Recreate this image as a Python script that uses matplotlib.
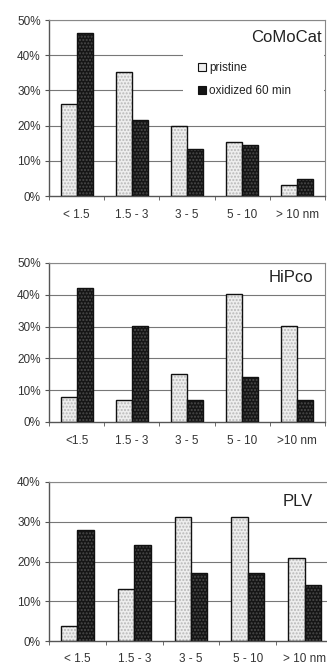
import matplotlib
matplotlib.use("Agg")
import matplotlib.pyplot as plt
import numpy as np
from matplotlib.patches import Patch, Rectangle

plt.rcParams['font.family'] = ['Liberation Sans', 'DejaVu Sans']

titles = ["CoMoCat", "HiPco", "PLV"]
labels_1 = ["< 1.5", "1.5 - 3", "3 - 5", "5 - 10", "> 10 nm"]
labels_2 = ["<1.5", "1.5 - 3", "3 - 5", "5 - 10", ">10 nm"]
labels_3 = ["< 1.5", "1.5 - 3", "3 - 5", "5 - 10", "> 10 nm"]
pristine_1 = [26, 35.3, 20, 15.2, 3]
oxidized_1 = [46.2, 21.5, 13.4, 14.4, 4.8]
pristine_2 = [8, 6.8, 15.2, 40.2, 30.3]
oxidized_2 = [42.2, 30.3, 6.9, 14.2, 7]
pristine_3 = [3.7, 13, 31.2, 31.2, 21]
oxidized_3 = [28, 24.2, 17, 17, 14]
ymax = [50, 50, 40]
series_names = ["pristine", "oxidized 60 min"]

W, H = 327, 663
fig = plt.figure(figsize=(W / 100, H / 100), dpi=100)

boxes = [(49, 325, 20, 196), (49, 325, 263, 422), (49, 333, 482, 641)]
title_pos = [(322, 38), (313, 277), (313, 502)]

p_face, p_hatch = '#eeeeee', '#b8b8b8'
o_face, o_hatch = '#151515', '#4a4a4a'

data = [(labels_1, pristine_1, oxidized_1), (labels_2, pristine_2, oxidized_2),
        (labels_3, pristine_3, oxidized_3)]

for i, ((l, r, t, b), (labs, pv, ov)) in enumerate(zip(boxes, data)):
    ax = fig.add_axes([l / W, 1 - b / H, (r - l) / W, (b - t) / H])
    x = np.arange(len(labs))
    bw = 0.29
    ax.set_axisbelow(True)
    ax.bar(x - bw / 2, pv, bw, color=p_face, hatch='.....', edgecolor=p_hatch, linewidth=0, zorder=2)
    ax.bar(x + bw / 2, ov, bw, color=o_face, hatch='.....', edgecolor=o_hatch, linewidth=0, zorder=2)
    ax.bar(x - bw / 2, pv, bw, fill=False, edgecolor='#111111', linewidth=1.0, zorder=3)
    ax.bar(x + bw / 2, ov, bw, fill=False, edgecolor='#111111', linewidth=1.0, zorder=3)

    ax.set_xlim(-0.5, len(labs) - 0.5)
    ax.set_ylim(0, ymax[i])
    yt = np.arange(0, ymax[i] + 1, 10)
    ax.set_yticks(yt)
    ax.set_yticklabels([f"{v}%" for v in yt], fontsize=8.5, color='#333333')
    for v in yt[1:]:
        ax.axhline(v, color='#777777', linewidth=0.8, zorder=1)
    ax.set_xticks(x)
    ax.set_xticklabels(labs, fontsize=8.5, color='#333333')
    ax.set_xticks(np.arange(-0.5, len(labs), 1.0), minor=True)
    ax.tick_params(axis='x', which='major', length=0, pad=9)
    ax.tick_params(axis='x', which='minor', length=3, direction='out', color='#555555')
    ax.tick_params(axis='y', length=3, direction='out', color='#555555', pad=3)
    for s in ['left', 'bottom']:
        ax.spines[s].set_color('#555555')
        ax.spines[s].set_linewidth(1.0)
    for s in ['top', 'right']:
        ax.spines[s].set_color('#888888')
        ax.spines[s].set_linewidth(0.8)
    tx, ty = title_pos[i]
    fig.text(tx / W, 1 - ty / H, titles[i], ha='right', va='center',
             fontsize=12, color='#222222', zorder=5)
    if i == 0:
        ax.add_patch(Rectangle((0.485, 0.545), 0.51, 0.3, transform=ax.transAxes,
                               facecolor='white', edgecolor='none', zorder=1.5))
        handles = [Patch(facecolor=p_face, edgecolor='#111111', linewidth=0.8),
                   Patch(facecolor=o_face, edgecolor='#111111', linewidth=0.8)]
        leg = ax.legend(handles, series_names, loc='upper left', bbox_to_anchor=(0.54, 0.762),
                        fontsize=8.5, frameon=False, handlelength=0.7,
                        handleheight=0.7, handletextpad=0.25, labelspacing=0.95,
                        borderpad=0, borderaxespad=0)
        for txt in leg.get_texts():
            txt.set_color('#222222')

fig.savefig("out.png", dpi=100)
